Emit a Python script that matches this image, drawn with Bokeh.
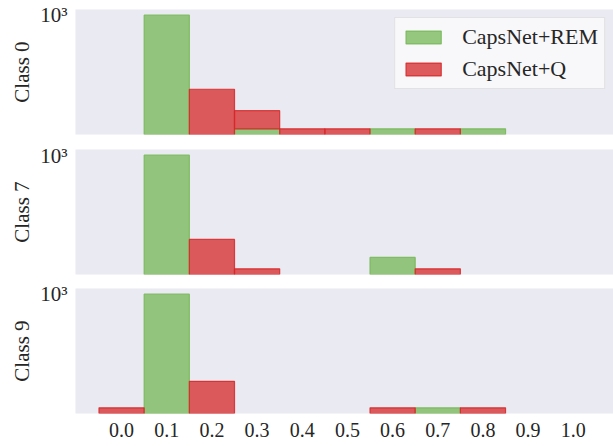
import numpy as np
from bokeh.plotting import figure
from bokeh.layouts import column
from bokeh.models import Range1d, FixedTicker, Legend, LegendItem, ColumnDataSource
from bokeh.embed import file_html
from bokeh.resources import INLINE

bin_centers = [0.0, 0.1, 0.2, 0.3, 0.4, 0.5, 0.6, 0.7, 0.8, 0.9, 1.0]
tick_labels = ["0.0", "0.1", "0.2", "0.3", "0.4", "0.5", "0.6", "0.7", "0.8", "0.9", "1.0"]
classes = ["Class 0", "Class 7", "Class 9"]

rem_class0 = [0, 977, 0, 1, 0, 0, 1, 0, 1, 0, 0]
rem_class7 = [0, 1026, 0, 0, 0, 0, 2, 0, 0, 0, 0]
rem_class9 = [0, 1008, 0, 0, 0, 0, 0, 1, 0, 0, 0]

# stacked on top of CapsNet+REM counts
q_class0 = [0, 0, 11, 2, 1, 1, 0, 1, 0, 0, 0]
q_class7 = [0, 0, 6, 1, 0, 0, 0, 1, 0, 0, 0]
q_class9 = [1, 0, 5, 0, 0, 0, 1, 0, 1, 0, 0]

rem_all = [rem_class0, rem_class7, rem_class9]
q_all = [q_class0, q_class7, q_class9]

BIN_W = 0.1
FONT = "Liberation Serif"
BG = "#EAEAF2"
GREEN = "#75B756"
RED = "#D62728"
TXT = "#262626"

heights = [141, 140, 162]
tops = [9, 8, 7]
bottoms = [7, 7, 30]

figs = []
for i, (name, rem, q) in enumerate(zip(classes, rem_all, q_all)):
    tot = [a + b for a, b in zip(rem, q)]
    m = max(tot)
    lm = np.log10(m)
    y_lo = 10 ** (-0.05 * lm)
    y_hi = 10 ** (1.05 * lm)
    p = figure(width=613, height=heights[i], output_backend="svg", toolbar_location=None,
               y_axis_type="log", x_range=Range1d(-0.102, 1.089), y_range=Range1d(y_lo, y_hi),
               min_border_left=75, min_border_right=0, min_border_top=tops[i],
               min_border_bottom=bottoms[i])
    p.background_fill_color = BG
    p.border_fill_color = "white"
    p.outline_line_color = None
    p.xgrid.visible = False
    p.ygrid.visible = False

    ks_r = [k for k in range(len(rem)) if rem[k] > 0]
    ks_q = [k for k in range(len(q)) if q[k] > 0]
    src_r = ColumnDataSource(dict(left=[bin_centers[k] - BIN_W / 2 for k in ks_r],
                                  right=[bin_centers[k] + BIN_W / 2 for k in ks_r],
                                  top=[rem[k] for k in ks_r], bottom=[y_lo] * len(ks_r)))
    src_q = ColumnDataSource(dict(left=[bin_centers[k] - BIN_W / 2 for k in ks_q],
                                  right=[bin_centers[k] + BIN_W / 2 for k in ks_q],
                                  top=[rem[k] + q[k] for k in ks_q],
                                  bottom=[rem[k] if rem[k] > 0 else y_lo for k in ks_q]))

    rr = p.quad(left="left", right="right", top="top", bottom="bottom", source=src_r,
                fill_color=GREEN, fill_alpha=0.75, line_color=GREEN, line_alpha=0.85, line_width=1.2)
    rq = p.quad(left="left", right="right", top="top", bottom="bottom", source=src_q,
                fill_color=RED, fill_alpha=0.75, line_color=RED, line_alpha=0.85, line_width=1.2)

    p.yaxis.ticker = FixedTicker(ticks=[1000], minor_ticks=[])
    p.yaxis.major_label_overrides = {1000: "10³"}
    p.yaxis.axis_line_color = None
    p.yaxis.major_tick_line_color = None
    p.yaxis.major_tick_out = 0
    p.yaxis.major_tick_in = 0
    p.yaxis.minor_tick_line_color = None
    p.yaxis.major_label_text_font = FONT
    p.yaxis.major_label_text_font_size = "21px"
    p.yaxis.major_label_text_color = TXT
    p.yaxis.major_label_standoff = 8
    p.yaxis.axis_label = name
    p.yaxis.axis_label_text_font = FONT
    p.yaxis.axis_label_text_font_size = "21px"
    p.yaxis.axis_label_text_font_style = "normal"
    p.yaxis.axis_label_text_color = TXT
    p.yaxis.axis_label_standoff = 3

    if i < 2:
        p.xaxis.visible = False
    else:
        p.xaxis.ticker = FixedTicker(ticks=bin_centers, minor_ticks=[])
        p.xaxis.major_label_overrides = {c: t for c, t in zip(bin_centers, tick_labels)}
        p.xaxis.axis_line_color = None
        p.xaxis.major_tick_line_color = None
        p.xaxis.major_tick_out = 0
        p.xaxis.major_tick_in = 0
        p.xaxis.minor_tick_line_color = None
        p.xaxis.major_label_text_font = FONT
        p.xaxis.major_label_text_font_size = "20px"
        p.xaxis.major_label_text_color = TXT
        p.xaxis.major_label_standoff = 9

    if i == 0:
        legend = Legend(items=[LegendItem(label="CapsNet+REM", renderers=[rr]),
                               LegendItem(label="CapsNet+Q", renderers=[rq])],
                        location="top_right")
        legend.margin = 8
        legend.padding = 6
        legend.spacing = 6
        legend.glyph_width = 44
        legend.glyph_height = 16
        legend.label_height = 24
        legend.label_standoff = 17
        legend.label_text_font = FONT
        legend.label_text_font_size = "22px"
        legend.label_text_color = TXT
        legend.background_fill_color = "#FAFAFC"
        legend.background_fill_alpha = 0.85
        legend.border_line_color = "#CCCCCC"
        legend.border_line_width = 1
        p.add_layout(legend, "center")
    figs.append(p)

layout = column(*figs, spacing=0)
open("out.html", "w").write(file_html(layout, INLINE))
